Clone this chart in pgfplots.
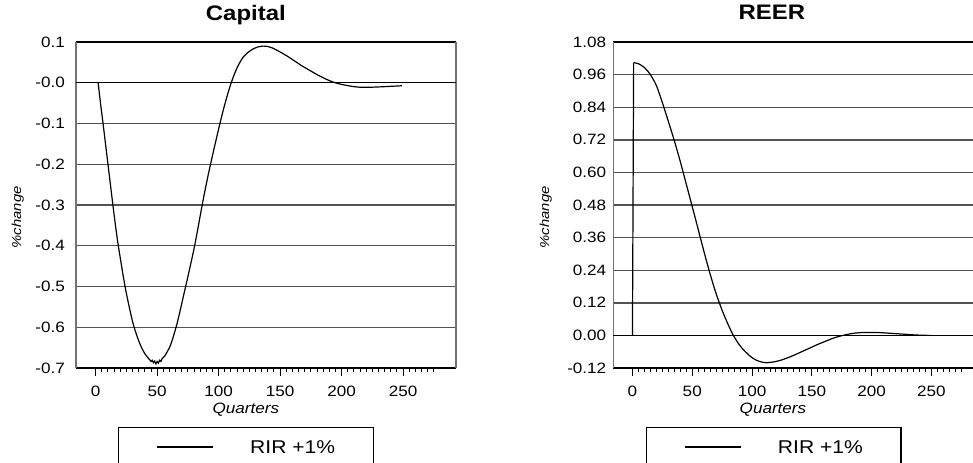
\documentclass[border=0pt]{standalone}
\usepackage{pgfplots}
\pgfplotsset{compat=1.18}
\usepackage{fontspec}
\setmainfont{Liberation Sans}[FakeStretch=1.14]
\newdimen\pu \pu=0.5pt

\pgfplotsset{
  irf/.style={
    scale only axis,
    height=326\pu,
    xmin=-16, xmax=293,
    separate axis lines,
    x axis line style={black, line width=0.7pt},
    y axis line style={black!55, line width=0.7pt},
    xtick={0,50,100,150,200,250},
    xticklabels={0,50,100,150,200,250},
    minor xtick={5,10,...,275},
    xtick pos=bottom, ytick pos=left,
    tick align=outside,
    major tick length=8\pu,
    minor tick length=4\pu,
    xtick style={black, line width=0.5pt},
    minor tick style={black, line width=0.5pt},
    ytick style={draw=none},
    ymajorgrids,
    major grid style={black!68, line width=0.7pt},
    tick label style={font=\fontsize{7.5}{9}\selectfont},
    xticklabel style={anchor=base, yshift=-20\pu},
    yticklabel style={anchor=east},
    xlabel={Quarters},
    ylabel={\%change},
    xlabel style={anchor=base, font=\itshape\fontsize{7.5}{9}\selectfont},
    ylabel style={anchor=center, font=\itshape\fontsize{6.5}{8}\selectfont},
    title style={anchor=base, font=\bfseries\fontsize{10.5}{12}\selectfont},
    legend style={draw=black, line width=0.6pt, inner xsep=38\pu, inner ysep=13\pu,
      nodes={inner sep=0pt, text depth=0pt}, font=\fontsize{9.25}{11}\selectfont,
      anchor=north west},
    legend image code/.code={\draw[##1] (0,0) -- (56\pu,0); \path[draw=none] (93\pu,0);},
    clip=false,
  },
  curve/.style={black, line width=0.6pt, no markers},
  zeroline/.style={black, line width=0.65pt, forget plot},
}

\begin{document}
\begin{tikzpicture}

% ---------------- Capital ----------------
\begin{axis}[irf,
  at={(76\pu,94\pu)}, anchor=south west,
  width=380\pu,
  ymin=-0.7, ymax=0.1,
  ytick={-0.7,-0.6,-0.5,-0.4,-0.3,-0.2,-0.1,0,0.1},
  yticklabels={-0.7,-0.6,-0.5,-0.4,-0.3,-0.2,-0.1,-0.0,0.1},
  yticklabel style={xshift=4\pu},
  title={Capital},
  title style={at={(axis description cs:0.447,1.0307)}},
  xlabel style={at={(axis description cs:0.447,-0.141)}},
  ylabel style={at={(axis description cs:-0.153,0.462)}},
  legend style={at={(axis description cs:0.1105,-0.181)}},
]
\addplot[zeroline] coordinates {(-16,0) (293,0)};
\addplot[curve, smooth, tension=0.4] coordinates {
(2,0) (4,-0.052) (6,-0.1) (8,-0.15) (10,-0.2) (12,-0.25) (14,-0.3) (16,-0.348)
(18,-0.392) (20,-0.43) (22,-0.467) (24,-0.502) (26,-0.532) (28,-0.56) (30,-0.586)
(32,-0.607) (34,-0.625) (36,-0.641) (38,-0.654) (40,-0.665) (42,-0.673) (44,-0.68)
(45,-0.684) (46,-0.681) (47,-0.687) (48,-0.683) (49,-0.690) (50,-0.684) (51,-0.688)
(52,-0.681) (53,-0.684) (54,-0.677) (56,-0.671) (58,-0.661) (60,-0.65) (62,-0.634)
(64,-0.614) (66,-0.593) (68,-0.568) (70,-0.542) (72,-0.515) (74,-0.489) (76,-0.462)
(78,-0.435) (80,-0.407) (82,-0.376) (84,-0.343) (86,-0.31) (88,-0.278) (90,-0.248)
(92,-0.219) (94,-0.192) (96,-0.165) (98,-0.139) (100,-0.113) (102,-0.088) (104,-0.064)
(106,-0.042) (108,-0.021) (110,-0.002) (112,0.015) (114,0.03) (116,0.043) (118,0.054)
(120,0.063) (124,0.075) (128,0.083) (132,0.088) (136,0.090) (140,0.089) (144,0.085)
(148,0.079) (152,0.072) (156,0.065) (160,0.057) (164,0.049) (168,0.041) (172,0.034)
(176,0.027) (180,0.02) (184,0.014) (188,0.008) (192,0.003) (196,-0.001) (200,-0.004)
(205,-0.007) (210,-0.0095) (215,-0.011) (220,-0.011) (225,-0.0108) (230,-0.0102)
(235,-0.0095) (240,-0.0087) (245,-0.008) (249,-0.0073)
};
\addlegendentry{RIR +1\%}
\end{axis}

% ---------------- REER ----------------
\begin{axis}[irf,
  at={(613.3\pu,94\pu)}, anchor=south west,
  width=369.6\pu,
  ymin=-0.12, ymax=1.08,
  ytick={-0.12,0,0.12,0.24,0.36,0.48,0.6,0.72,0.84,0.96,1.08},
  yticklabels={-0.12,0.00,0.12,0.24,0.36,0.48,0.60,0.72,0.84,0.96,1.08},
  yticklabel style={xshift=8\pu},
  title={REER},
  title style={at={(axis description cs:0.429,1.0307)}},
  xlabel style={at={(axis description cs:0.432,-0.141)}},
  ylabel style={at={(axis description cs:-0.183,0.462)}},
  legend style={at={(axis description cs:0.0877,-0.181)}},
]
\addplot[zeroline] coordinates {(-16,0) (293,0)};
\addplot[curve, forget plot] coordinates {(0,0) (1,1.004)};
\addplot[curve, smooth, tension=0.4] coordinates {
(1,1.004) (5,1.0) (10,0.986) (15,0.96) (20,0.92) (25,0.857) (30,0.788)
(35,0.717) (40,0.64) (45,0.557) (50,0.474) (55,0.39) (60,0.305) (65,0.225)
(70,0.153) (75,0.092) (80,0.04) (84,0.003) (88,-0.026) (92,-0.049) (96,-0.067)
(100,-0.082) (104,-0.092) (108,-0.098) (112,-0.1005) (116,-0.099) (120,-0.096)
(125,-0.09) (130,-0.082) (135,-0.073) (140,-0.063) (145,-0.053) (150,-0.043)
(155,-0.033) (160,-0.024) (165,-0.015) (170,-0.007) (175,-0.001) (180,0.004)
(185,0.008) (190,0.010) (195,0.011) (200,0.011) (205,0.0105) (210,0.0095)
(215,0.008) (220,0.0065) (225,0.005) (230,0.0035) (235,0.002) (240,0.001)
(245,0.0003) (250,0.0)
};
\addlegendentry{RIR +1\%}
\end{axis}

\pgfresetboundingbox
\useasboundingbox (0,0) rectangle (973\pu,462\pu);
\end{tikzpicture}
\end{document}
